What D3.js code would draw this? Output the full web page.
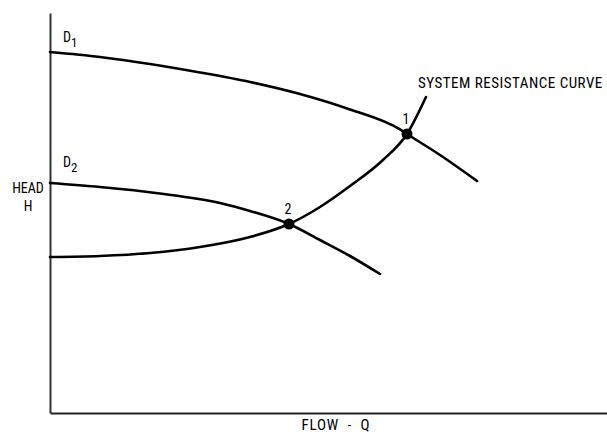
<!DOCTYPE html>
<html>
<head>
<meta charset="utf-8">
<script src="https://cdn.jsdelivr.net/npm/d3@7"></script>
<style>
  html, body { margin: 0; padding: 0; background: #fff; }
  svg { display: block; }
  text { font-family: "Liberation Sans Narrow", "Roboto Condensed", "DejaVu Sans Condensed", sans-serif; fill: #000; }
</style>
</head>
<body>
<svg id="chart" width="607" height="435"></svg>
<script>
// Pump head-flow characteristics (arbitrary units, 0-100 on each axis)
const pumpD1 = [[0, 90.25], [8.98, 89], [17.95, 87.25], [26.93, 85.13], [35.91, 82.75], [44.88, 79.75], [53.86, 75.88], [62.84, 70.88], [64.09, 69.75], [70.02, 64.5], [76.66, 58]];
const pumpD2 = [[0, 57.5], [8.98, 56.5], [19.75, 54.88], [30.52, 52.5], [35.91, 50.5], [42.91, 47.25], [48.47, 43.25], [53.86, 39.25], [59.25, 34.75]];
const systemCurve = [[0, 39], [8.98, 39.25], [17.95, 40], [26.93, 41.5], [35.91, 44], [42.91, 47.25], [48.47, 51.5], [53.86, 56.75], [59.78, 63.25], [64.09, 69.75], [67.5, 79]];
const operatingPoints = [
  { label: "1", flow: 64.09, head: 69.75 },
  { label: "2", flow: 42.91, head: 47.25 }
];
const curveNames = ["D", "D"];
const curveSubs = ["1", "2"];
const systemLabel = "SYSTEM RESISTANCE CURVE";
const xTitle = "FLOW - Q";
const yTitle = ["HEAD", "H"];

const svg = d3.select("#chart");
const x = d3.scaleLinear().domain([0, 100]).range([50, 607]);
const y = d3.scaleLinear().domain([0, 100]).range([413, 13]);

// Axes: bare lines, no ticks
svg.append("g")
  .attr("transform", `translate(0,${y(0)})`)
  .call(d3.axisBottom(x).tickValues([]).tickSizeOuter(0))
  .call(g => g.select(".domain").attr("stroke", "#222").attr("stroke-width", 2));
svg.append("g")
  .attr("transform", `translate(${x(0)},0)`)
  .call(d3.axisLeft(y).tickValues([]).tickSizeOuter(0))
  .call(g => g.select(".domain").attr("stroke", "#333").attr("stroke-width", 2));

const line = d3.line()
  .x(d => x(d[0]))
  .y(d => y(d[1]))
  .curve(d3.curveMonotoneX);

[pumpD1, pumpD2, systemCurve].forEach(c => {
  svg.append("path")
    .datum(c)
    .attr("d", line)
    .attr("fill", "none")
    .attr("stroke", "#000")
    .attr("stroke-width", 2.6)
    .attr("stroke-linecap", "round");
});

// Operating points
svg.selectAll("circle.op")
  .data(operatingPoints)
  .join("circle")
  .attr("class", "op")
  .attr("cx", d => x(d.flow))
  .attr("cy", d => y(d.head))
  .attr("r", 5.5)
  .attr("fill", "#000");

svg.selectAll("text.op")
  .data(operatingPoints)
  .join("text")
  .attr("class", "op")
  .attr("x", d => x(d.flow) - 1)
  .attr("y", d => y(d.head) - 10)
  .attr("text-anchor", "middle")
  .attr("font-size", 14)
  .text(d => d.label);

// Curve labels D1, D2
const nameY = [42, 167];
curveNames.forEach((n, i) => {
  const t = svg.append("text")
    .attr("x", 63)
    .attr("y", nameY[i])
    .attr("font-size", 14);
  t.append("tspan").text(n);
  t.append("tspan").attr("dy", 5).attr("font-size", 13).text(curveSubs[i]);
});

svg.append("text")
  .attr("x", 418)
  .attr("y", 88)
  .attr("font-size", 15)
  .attr("letter-spacing", 0.5)
  .text(systemLabel);

svg.append("text")
  .attr("x", 336)
  .attr("y", 430)
  .attr("text-anchor", "middle")
  .attr("font-size", 15)
  .attr("letter-spacing", 0.8)
  .attr("xml:space", "preserve")
  .text(xTitle.replace(" - ", "  -  "));

yTitle.forEach((t, i) => {
  svg.append("text")
    .attr("x", 28)
    .attr("y", 193 + i * 18)
    .attr("text-anchor", "middle")
    .attr("font-size", 14)
    .text(t);
});
</script>
</body>
</html>
